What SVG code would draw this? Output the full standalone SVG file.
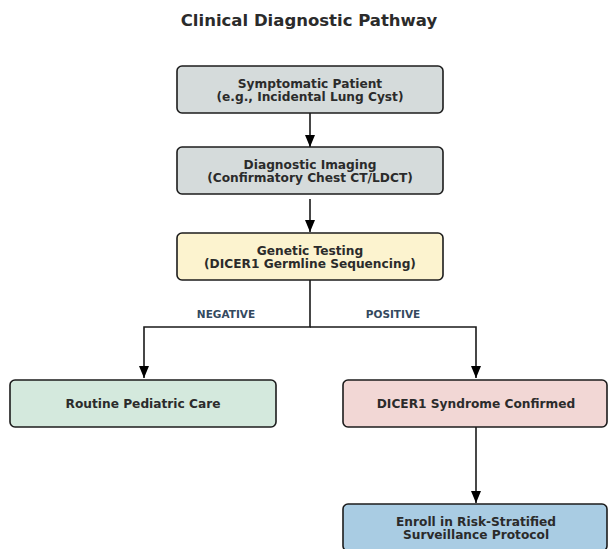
<svg xmlns="http://www.w3.org/2000/svg" width="608" height="549" viewBox="0 0 608 549">
<defs>
<style>
.box{stroke:#1c1c1c;stroke-width:1.6}
.t{font-family:"DejaVu Sans",sans-serif;font-weight:bold;font-size:12.2px;fill:#2b2b2b;text-anchor:middle}
.lbl{font-family:"DejaVu Sans",sans-serif;font-weight:bold;font-size:10.5px;fill:#34495e;text-anchor:middle}
.ln{stroke:#1a1a1a;stroke-width:1.6;fill:none}
</style>
</defs>
<rect width="608" height="549" fill="#fff"/>
<text x="309" y="26" font-family="DejaVu Sans, sans-serif" font-weight="bold" font-size="16.5" fill="#2b2b2b" text-anchor="middle">Clinical Diagnostic Pathway</text>
<g id="connectors">
<path class="ln" d="M310,113 V147"/>
<path class="ln" d="M310,199 V232"/>
<path class="ln" d="M310,280 V327 H144 V378"/>
<path class="ln" d="M310,327 H476 V378"/>
<path class="ln" d="M476,427 V503"/>
<path d="M305,135 L315,135 L310,147 Z" fill="#000"/>
<path d="M305,220 L315,220 L310,232 Z" fill="#000"/>
<path d="M139,366 L149,366 L144,378 Z" fill="#000"/>
<path d="M471,366 L481,366 L476,378 Z" fill="#000"/>
<path d="M471,491 L481,491 L476,503 Z" fill="#000"/>
<text class="lbl" x="226" y="318">NEGATIVE</text>
<text class="lbl" x="393" y="318">POSITIVE</text>
</g>
<g id="n1"><rect class="box" x="177" y="66" width="266" height="47" rx="5" fill="#d5dbdb"/>
<text class="t" x="310" y="88">Symptomatic Patient</text><text class="t" x="310" y="101">(e.g., Incidental Lung Cyst)</text></g>
<g id="n2"><rect class="box" x="177" y="147" width="266" height="47" rx="5" fill="#d5dbdb"/>
<text class="t" x="310" y="169">Diagnostic Imaging</text><text class="t" x="310" y="182">(Confirmatory Chest CT/LDCT)</text></g>
<g id="n3"><rect class="box" x="177" y="233" width="266" height="47" rx="5" fill="#fcf3cf"/>
<text class="t" x="310" y="255">Genetic Testing</text><text class="t" x="310" y="268">(DICER1 Germline Sequencing)</text></g>
<g id="n4"><rect class="box" x="10" y="380" width="266" height="47" rx="5" fill="#d4e9dd"/>
<text class="t" x="143" y="408">Routine Pediatric Care</text></g>
<g id="n5"><rect class="box" x="343" y="380" width="264" height="47" rx="5" fill="#f2d7d5"/>
<text class="t" x="476" y="408">DICER1 Syndrome Confirmed</text></g>
<g id="n6"><rect class="box" x="343" y="504" width="264" height="47" rx="5" fill="#a9cce3"/>
<text class="t" x="476" y="526">Enroll in Risk-Stratified</text><text class="t" x="476" y="539">Surveillance Protocol</text></g>
</svg>
